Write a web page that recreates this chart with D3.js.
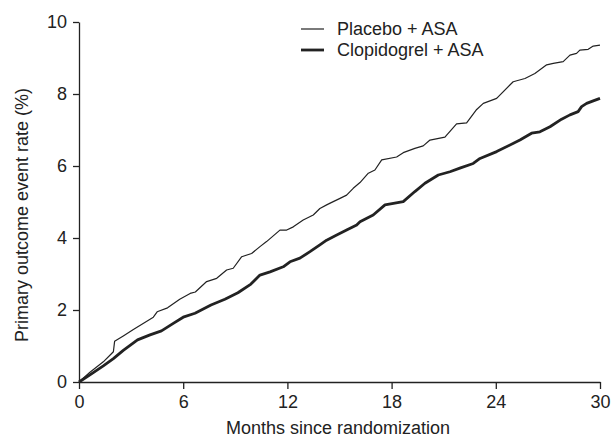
<!DOCTYPE html>
<html>
<head>
<meta charset="utf-8">
<script src="https://cdn.jsdelivr.net/npm/d3@7"></script>
<style>
  body { margin: 0; background: #fff; }
  text { font-family: "Liberation Sans", Arial, sans-serif; fill: #222; }
</style>
</head>
<body>
<svg class="vis-chart"></svg>
<script>
// months since randomization and event rate (%)
const placeboMonths = [0, 0.63, 1.40, 1.98, 2.05, 2.55, 3.13, 3.60, 4.28, 4.50, 5.10, 5.80, 6.40, 6.70, 7.35, 7.93, 8.50, 8.88, 9.37, 9.94, 10.42, 10.80, 11.57, 11.96, 12.34, 12.91, 13.49, 13.87, 14.26, 14.64, 15.03, 15.41, 15.79, 16.18, 16.66, 17.04, 17.43, 18.29, 18.67, 19.34, 19.82, 20.21, 21.07, 21.74, 22.32, 22.90, 23.28, 24.05, 25.0, 25.68, 26.25, 26.93, 27.31, 27.88, 28.27, 28.65, 28.84, 29.32, 29.61, 30];
const placeboRate = [0, 0.27, 0.56, 0.84, 1.13, 1.28, 1.46, 1.60, 1.80, 1.95, 2.06, 2.30, 2.46, 2.50, 2.79, 2.88, 3.11, 3.16, 3.48, 3.57, 3.76, 3.90, 4.22, 4.22, 4.31, 4.50, 4.64, 4.82, 4.92, 5.01, 5.10, 5.19, 5.38, 5.54, 5.80, 5.89, 6.17, 6.25, 6.37, 6.49, 6.56, 6.72, 6.80, 7.17, 7.20, 7.57, 7.74, 7.88, 8.34, 8.43, 8.57, 8.81, 8.85, 8.90, 9.08, 9.13, 9.22, 9.24, 9.33, 9.36];

const clopiMonths = [0, 0.63, 1.40, 1.98, 2.55, 3.37, 4.09, 4.75, 5.43, 6.0, 6.68, 7.60, 8.40, 9.15, 9.90, 10.42, 11.0, 11.76, 12.15, 12.72, 13.30, 13.87, 14.26, 14.84, 15.41, 15.99, 16.18, 16.94, 17.62, 18.67, 19.34, 19.92, 20.69, 21.36, 21.93, 22.70, 23.09, 24.05, 25.39, 26.06, 26.54, 27.12, 27.79, 28.27, 28.74, 28.94, 29.23, 29.61, 30];
const clopiRate = [0, 0.20, 0.45, 0.65, 0.88, 1.17, 1.31, 1.42, 1.63, 1.80, 1.91, 2.14, 2.30, 2.48, 2.72, 2.97, 3.06, 3.20, 3.34, 3.44, 3.62, 3.81, 3.94, 4.08, 4.22, 4.36, 4.45, 4.64, 4.92, 5.01, 5.29, 5.52, 5.75, 5.84, 5.94, 6.07, 6.21, 6.40, 6.72, 6.91, 6.95, 7.09, 7.30, 7.42, 7.51, 7.65, 7.74, 7.81, 7.88];

const xTicks = [0, 6, 12, 18, 24, 30];
const yTicks = [0, 2, 4, 6, 8, 10];
const seriesNames = ["Placebo + ASA", "Clopidogrel + ASA"];

const margin = {top: 22, right: 11, bottom: 57, left: 79},
    width = 611 - margin.left - margin.right,
    height = 439 - margin.top - margin.bottom;

var svg = d3.select(".vis-chart")
    .attr("width", 611)
    .attr("height", 439)

var g = svg.append("g")
    .attr("transform", "translate(" + margin.left + "," + margin.top + ")")

var x = d3.scaleLinear()
    .domain([0, 30])
    .range([0, width])

var y = d3.scaleLinear()
    .domain([0, 10])
    .range([height, 0])

// axes
g.append("g")
    .call(d3.axisLeft(y).tickValues(yTicks).tickSize(6).tickSizeOuter(0).tickPadding(6))
g.append("g")
    .attr("transform", "translate(0," + height + ")")
    .call(d3.axisBottom(x).tickValues(xTicks).tickSize(7).tickSizeOuter(0).tickPadding(6))

g.selectAll(".domain, .tick line")
    .attr("stroke", "#222")
    .attr("stroke-width", 1.3)
g.selectAll(".tick text")
    .attr("font-size", 18)
    .attr("font-family", "Liberation Sans, Arial, sans-serif")
    .attr("fill", "#222")

// curves
var line = d3.line()
    .x(d => x(d[0]))
    .y(d => y(d[1]))

var placebo = placeboMonths.map((m, i) => [m, placeboRate[i]])
var clopi = clopiMonths.map((m, i) => [m, clopiRate[i]])

g.append("path")
    .datum(placebo)
    .attr("fill", "none")
    .attr("stroke", "#222")
    .attr("stroke-width", 1.2)
    .attr("stroke-linejoin", "round")
    .attr("d", line)

g.append("path")
    .datum(clopi)
    .attr("fill", "none")
    .attr("stroke", "#222")
    .attr("stroke-width", 2.8)
    .attr("stroke-linejoin", "round")
    .attr("d", line)

// legend
var legend = svg.append("g")
    .attr("transform", "translate(301,29)")

seriesNames.forEach((name, i) => {
    legend.append("line")
        .attr("x1", 0)
        .attr("x2", 23)
        .attr("y1", i * 21)
        .attr("y2", i * 21)
        .attr("stroke", "#222")
        .attr("stroke-width", i == 0 ? 1.2 : 2.8)
    legend.append("text")
        .attr("x", 36)
        .attr("y", i * 21 + 6)
        .attr("font-size", 18)
        .text(name)
})

// axis titles
svg.append("text")
    .attr("text-anchor", "middle")
    .attr("x", 338)
    .attr("y", 434)
    .attr("font-size", 18)
    .text("Months since randomization")

svg.append("text")
    .attr("text-anchor", "middle")
    .attr("transform", "translate(28,215) rotate(-90)")
    .attr("font-size", 18)
    .text("Primary outcome event rate (%)")
</script>
</body>
</html>
